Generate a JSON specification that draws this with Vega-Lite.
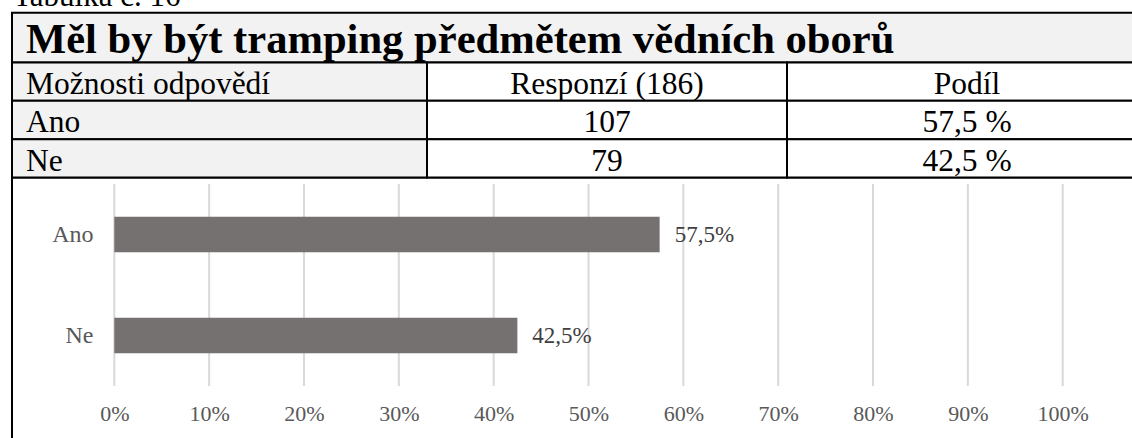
{
  "$schema": "https://vega.github.io/schema/vega-lite/v6.json",
  "width": 1132,
  "height": 438,
  "autosize": {"type": "fit", "contains": "padding"},
  "padding": 0,
  "background": "white",
  "config": {
    "view": {"stroke": null},
    "locale": {"number": {"decimal": ",", "thousands": " ", "grouping": [3], "currency": ["", " Kč"]}},
    "text": {"font": "Liberation Serif"}
  },
  "datasets": {
    "answers": [
      {"option": "Ano", "count": 107, "share": 0.575},
      {"option": "Ne", "count": 79, "share": 0.425}
    ],
    "table": [
      {"row": "header", "option": "Možnosti odpovědí", "count": "Responzí (186)", "share": "Podíl"},
      {"row": "Ano", "option": "Ano", "count": "107", "share": "57,5 %"},
      {"row": "Ne", "option": "Ne", "count": "79", "share": "42,5 %"}
    ],
    "heading": [
      {"row": "title", "caption": "Tabulka č. 16", "text": "Měl by být tramping předmětem vědních oborů"}
    ],
    "gridValues": [
      {"v": 0}, {"v": 0.1}, {"v": 0.2}, {"v": 0.3}, {"v": 0.4}, {"v": 0.5},
      {"v": 0.6}, {"v": 0.7}, {"v": 0.8}, {"v": 0.9}, {"v": 1}
    ]
  },
  "layer": [
    {
      "data": {"values": [{"area": "chart"}]},
      "mark": {"type": "rect", "fill": "transparent", "stroke": "black", "strokeWidth": 2, "clip": true},
      "encoding": {
        "x": {"field": "area", "type": "nominal", "scale": {"domain": ["chart"], "range": [12, 1150], "paddingInner": 0, "paddingOuter": 0}, "axis": null},
        "y": {"field": "area", "type": "nominal", "scale": {"domain": ["chart"], "range": [177.5, 470], "paddingInner": 0, "paddingOuter": 0}, "axis": null}
      }
    },
    {
      "data": {"name": "heading"},
      "layer": [
        {
          "mark": {"type": "rect", "fill": "#f2f2f2", "stroke": "black", "strokeWidth": 2, "clip": true},
          "encoding": {
            "x": {"field": "row", "type": "nominal", "scale": {"domain": ["title"], "range": [12, 1150], "paddingInner": 0, "paddingOuter": 0}, "axis": null},
            "y": {"field": "row", "type": "nominal", "scale": {"domain": ["title"], "range": [12.7, 62.5], "paddingInner": 0, "paddingOuter": 0}, "axis": null}
          }
        },
        {
          "mark": {"type": "text", "align": "left", "baseline": "alphabetic", "font": "Liberation Serif", "fontSize": 42.6, "fontWeight": "bold", "color": "black", "dx": 14, "dy": -9.5},
          "encoding": {
            "x": {"field": "row", "type": "nominal", "bandPosition": 0, "scale": {"domain": ["title"], "range": [12, 1150], "paddingInner": 0, "paddingOuter": 0}, "axis": null},
            "y": {"field": "row", "type": "nominal", "bandPosition": 1, "scale": {"domain": ["title"], "range": [12.7, 62.5], "paddingInner": 0, "paddingOuter": 0}, "axis": null},
            "text": {"field": "text"}
          }
        },
        {
          "mark": {"type": "text", "align": "left", "baseline": "alphabetic", "font": "Liberation Serif", "fontSize": 31, "color": "black", "dx": 1, "dy": -7, "clip": true},
          "encoding": {
            "x": {"field": "row", "type": "nominal", "bandPosition": 0, "scale": {"domain": ["title"], "range": [12, 1150], "paddingInner": 0, "paddingOuter": 0}, "axis": null},
            "y": {"field": "row", "type": "nominal", "bandPosition": 0, "scale": {"domain": ["title"], "range": [12.7, 62.5], "paddingInner": 0, "paddingOuter": 0}, "axis": null},
            "text": {"field": "caption"}
          }
        }
      ]
    },
    {
      "data": {"name": "table"},
      "layer": [
        {
          "mark": {"type": "rect", "fill": "#f2f2f2", "stroke": "black", "strokeWidth": 2},
          "encoding": {
            "x": {"datum": "option", "type": "nominal", "scale": {"domain": ["option"], "range": [12, 427], "paddingInner": 0, "paddingOuter": 0}, "axis": null},
            "y": {"field": "row", "type": "nominal", "scale": {"domain": ["header", "Ano", "Ne"], "range": [62.5, 177.5], "paddingInner": 0, "paddingOuter": 0}, "axis": null}
          }
        },
        {
          "mark": {"type": "text", "align": "left", "baseline": "alphabetic", "font": "Liberation Serif", "fontSize": 31.5, "color": "black", "dx": 14, "dy": -7},
          "encoding": {
            "x": {"datum": "option", "type": "nominal", "bandPosition": 0, "scale": {"domain": ["option"], "range": [12, 427], "paddingInner": 0, "paddingOuter": 0}, "axis": null},
            "y": {"field": "row", "type": "nominal", "bandPosition": 1, "scale": {"domain": ["header", "Ano", "Ne"], "range": [62.5, 177.5], "paddingInner": 0, "paddingOuter": 0}, "axis": null},
            "text": {"field": "option"}
          }
        }
      ]
    },
    {
      "data": {"name": "table"},
      "transform": [{"fold": ["count", "share"], "as": ["col", "value"]}],
      "layer": [
        {
          "mark": {"type": "rect", "fill": "white", "stroke": "black", "strokeWidth": 2, "clip": true},
          "encoding": {
            "x": {"field": "col", "type": "nominal", "scale": {"domain": ["count", "share"], "range": [427, 1147], "paddingInner": 0, "paddingOuter": 0}, "axis": null},
            "y": {"field": "row", "type": "nominal", "scale": {"domain": ["header", "Ano", "Ne"], "range": [62.5, 177.5], "paddingInner": 0, "paddingOuter": 0}, "axis": null}
          }
        },
        {
          "mark": {"type": "text", "align": "center", "baseline": "alphabetic", "font": "Liberation Serif", "fontSize": 31.5, "color": "black", "dy": -7},
          "encoding": {
            "x": {"field": "col", "type": "nominal", "scale": {"domain": ["count", "share"], "range": [427, 1147], "paddingInner": 0, "paddingOuter": 0}, "axis": null},
            "y": {"field": "row", "type": "nominal", "bandPosition": 1, "scale": {"domain": ["header", "Ano", "Ne"], "range": [62.5, 177.5], "paddingInner": 0, "paddingOuter": 0}, "axis": null},
            "text": {"field": "value"}
          }
        }
      ]
    },
    {
      "data": {"name": "gridValues"},
      "mark": {"type": "rule", "color": "#d9d9d9", "strokeWidth": 2},
      "encoding": {
        "x": {
          "field": "v", "type": "quantitative",
          "scale": {"domain": [0, 1], "range": [114.3, 1062.7], "nice": false, "zero": false},
          "axis": {
            "orient": "bottom", "offset": -25, "values": [0, 0.1, 0.2, 0.3, 0.4, 0.5, 0.6, 0.7, 0.8, 0.9, 1],
            "format": ".0%", "domain": false, "ticks": false, "grid": false, "title": null, "zindex": 2,
            "labelFont": "Liberation Serif", "labelFontSize": 22, "labelColor": "#595959",
            "labelBaseline": "middle", "labelPadding": 0, "labelFlush": false, "labelOverlap": false
          }
        },
        "y": {"datum": 0, "type": "quantitative", "scale": {"domain": [0, 1], "range": [184, 386], "nice": false, "zero": false}, "axis": null},
        "y2": {"datum": 1}
      }
    },
    {
      "data": {"name": "answers"},
      "mark": {"type": "bar", "color": "#757171"},
      "encoding": {
        "x": {"field": "share", "type": "quantitative", "scale": {"domain": [0, 1], "range": [114.3, 1062.7], "nice": false, "zero": false}, "axis": null},
        "y": {
          "field": "option", "type": "nominal",
          "scale": {"domain": ["Ano", "Ne"], "range": [184, 386], "paddingInner": 0.65, "paddingOuter": 0.325},
          "axis": {
            "orient": "left", "offset": -103, "domain": false, "ticks": false, "grid": false, "title": null, "zindex": 2,
            "labelFont": "Liberation Serif", "labelFontSize": 24, "labelColor": "#595959", "labelPadding": 10
          }
        }
      }
    },
    {
      "data": {"name": "answers"},
      "mark": {"type": "text", "align": "left", "baseline": "middle", "dx": 15, "font": "Liberation Serif", "fontSize": 23, "color": "#404040"},
      "encoding": {
        "x": {"field": "share", "type": "quantitative", "scale": {"domain": [0, 1], "range": [114.3, 1062.7], "nice": false, "zero": false}, "axis": null},
        "y": {"field": "option", "type": "nominal", "scale": {"domain": ["Ano", "Ne"], "range": [184, 386], "paddingInner": 0.65, "paddingOuter": 0.325}, "axis": null},
        "text": {"field": "share", "type": "quantitative", "format": ".1%"}
      }
    }
  ],
  "resolve": {"scale": {"x": "independent", "y": "independent"}}
}
